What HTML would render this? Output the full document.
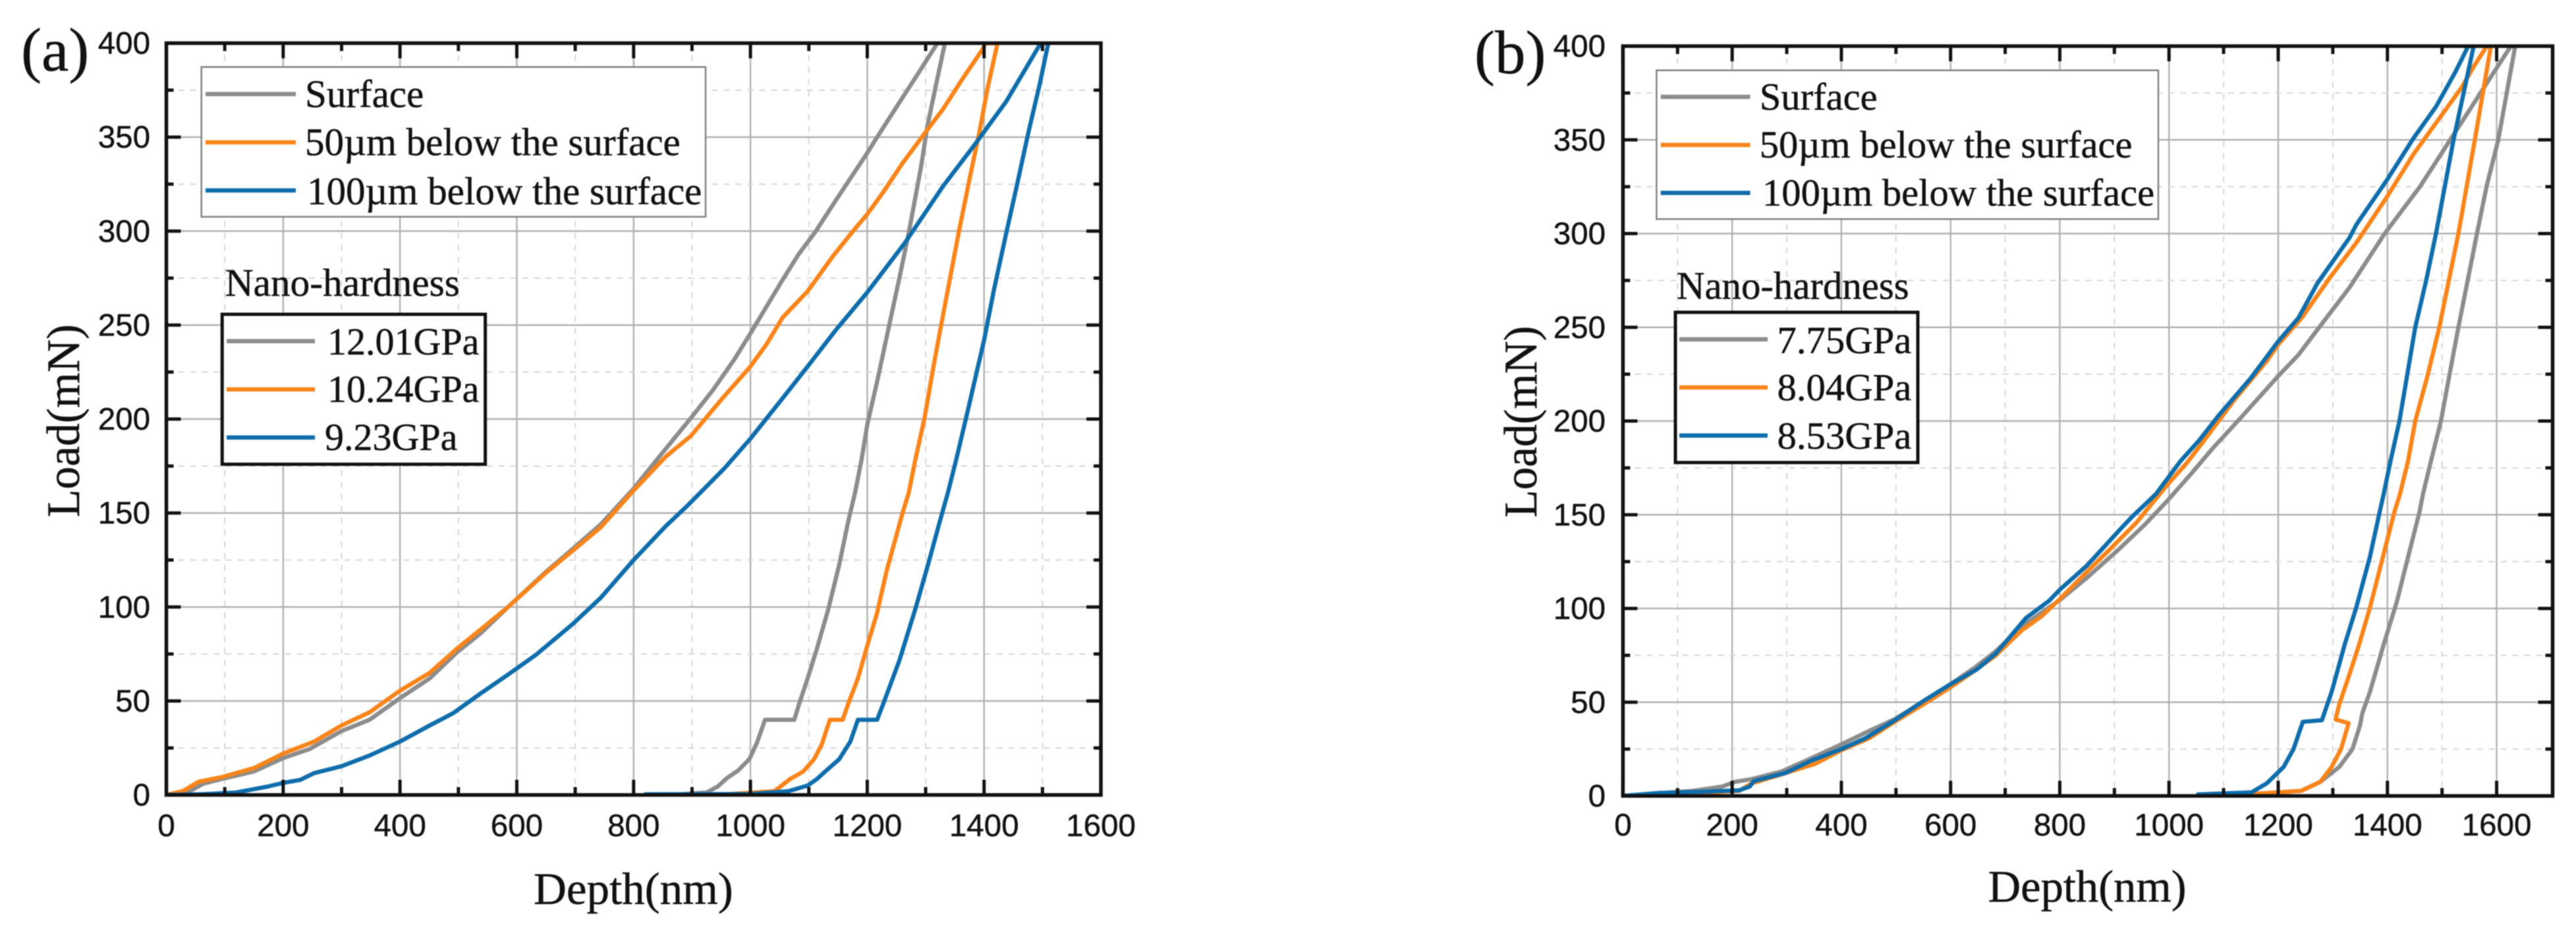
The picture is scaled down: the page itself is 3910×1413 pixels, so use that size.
<!DOCTYPE html>
<html lang="en">
<head>
<meta charset="utf-8">
<title>Nano-indentation load-depth curves</title>
<style>
html,body{margin:0;padding:0;background:#fff;width:3910px;height:1413px;overflow:hidden}
svg{display:block;filter:blur(0.8px)}
text{fill:#111;stroke:#111;stroke-width:0.5px}
.serif{font-family:"Liberation Serif",serif}
.sans{font-family:"Liberation Sans",sans-serif}
</style>
</head>
<body>
<svg id="figure" xmlns="http://www.w3.org/2000/svg" width="3910" height="1413" viewBox="0 0 3910 1413">
  <defs>
    <clipPath id="clip-a"><rect x="252.5" y="65.5" width="1418.5" height="1141"/></clipPath>
    <clipPath id="clip-b"><rect x="2463.4" y="70" width="1411.1" height="1138"/></clipPath>
  </defs>
  <rect width="3910" height="1413" fill="#fff"/>

  <g id="grid-a"></g>
  <g id="grid-b"></g>

  <g>
    <rect x="305.7" y="101.7" width="765.3" height="227.3" fill="#fff" stroke="#808080" stroke-width="2.5"/>
    <line x1="312" x2="449" y1="142.7" y2="142.7" stroke="#8c8c8c" stroke-width="6.5"/>
    <line x1="312" x2="449" y1="216" y2="216" stroke="#f8841a" stroke-width="6.5"/>
    <line x1="312" x2="449" y1="289" y2="289" stroke="#0f6dab" stroke-width="6.5"/>
    <text class="serif" font-size="59" x="463" y="162.7">Surface</text>
    <text class="serif" font-size="59" x="463" y="235.7">50µm below the surface</text>
    <text class="serif" font-size="59" x="466" y="310">100µm below the surface</text>
  </g>
  <g>
    <text class="serif" font-size="59.4" x="341.6" y="449">Nano-hardness</text>
    <rect x="337.2" y="477" width="399.4" height="227.6" fill="#fff" stroke="#111" stroke-width="5"/>
    <line x1="344" x2="478" y1="517.7" y2="517.7" stroke="#8c8c8c" stroke-width="6.5"/>
    <line x1="344" x2="478" y1="591" y2="591" stroke="#f8841a" stroke-width="6.5"/>
    <line x1="344" x2="478" y1="664" y2="664" stroke="#0f6dab" stroke-width="6.5"/>
    <text class="serif" font-size="58" x="497" y="538">12.01GPa</text>
    <text class="serif" font-size="58" x="497" y="610">10.24GPa</text>
    <text class="serif" font-size="58" x="493" y="683">9.23GPa</text>
  </g>

  <g>
    <rect x="2514.4" y="106.7" width="761.6" height="225.8" fill="#fff" stroke="#808080" stroke-width="2.5"/>
    <line x1="2520.8" x2="2656.6" y1="147" y2="147" stroke="#8c8c8c" stroke-width="6.5"/>
    <line x1="2520.8" x2="2656.6" y1="220" y2="220" stroke="#f8841a" stroke-width="6.5"/>
    <line x1="2520.8" x2="2656.6" y1="292.8" y2="292.8" stroke="#0f6dab" stroke-width="6.5"/>
    <text class="serif" font-size="58.6" x="2670.7" y="166.5">Surface</text>
    <text class="serif" font-size="58.6" x="2670.7" y="239">50µm below the surface</text>
    <text class="serif" font-size="58.6" x="2675" y="312">100µm below the surface</text>
  </g>
  <g>
    <text class="serif" font-size="58.8" x="2545" y="453.6">Nano-hardness</text>
    <rect x="2543" y="474" width="368" height="228" fill="#fff" stroke="#111" stroke-width="5"/>
    <line x1="2549" x2="2683" y1="515" y2="515" stroke="#8c8c8c" stroke-width="6.5"/>
    <line x1="2549" x2="2683" y1="588" y2="588" stroke="#f8841a" stroke-width="6.5"/>
    <line x1="2549" x2="2683" y1="661" y2="661" stroke="#0f6dab" stroke-width="6.5"/>
    <text class="serif" font-size="58.7" x="2697.5" y="536">7.75GPa</text>
    <text class="serif" font-size="58.7" x="2697.5" y="607.6">8.04GPa</text>
    <text class="serif" font-size="58.7" x="2697.5" y="681">8.53GPa</text>
  </g>

  <g id="curves-a" clip-path="url(#clip-a)"></g>
  <g id="curves-b" clip-path="url(#clip-b)"></g>
  <g id="axes-a"></g>
  <g id="axes-b"></g>

  <text class="serif" font-size="93" x="32" y="107">(a)</text>
  <text class="serif" font-size="93" x="2238" y="111">(b)</text>
  <text class="serif" font-size="69" x="810" y="1372">Depth(nm)</text>
  <text class="serif" font-size="68.6" x="3017.6" y="1368.5">Depth(nm)</text>
  <text class="serif" font-size="71" textLength="293" lengthAdjust="spacingAndGlyphs" transform="translate(120,785) rotate(-90)">Load(mN)</text>
  <text class="serif" font-size="71" textLength="291" lengthAdjust="spacingAndGlyphs" transform="translate(2332,785.5) rotate(-90)">Load(mN)</text>
</svg>

<script>
// Tick values
const xMajorTicksA = [0,200,400,600,800,1000,1200,1400,1600];
const xMinorTicksA = [100,300,500,700,900,1100,1300,1500];
const xMajorTicksB = [0,200,400,600,800,1000,1200,1400,1600];
const xMinorTicksB = [100,300,500,700,900,1100,1300,1500];
const yMajorTicks = [0,50,100,150,200,250,300,350,400];
const yMinorTicks = [25,75,125,175,225,275,325,375];

// Panel (a) — Surface
const aSurfaceDepth = [0,40,63,95,150,200,245,300,348,400,451,498,538,585,649,696,744,800,844,898,936,973,1000,1022,1055,1082,1112,1146,1200,1217,1249,1287,1320,
  1333,1319,1303,1292,1271,1255,1238,1217,1200,1190,1179,1168,1152,1133,1114,1098,1084,1075,1025,1011,998,979,960,944,925,880];
const aSurfaceLoad = [0,2,6,8.5,12.5,19.6,24.4,34,40,51.5,62,76,86,100,118.5,131,144,163,180,200.5,215.5,232,245.6,257,274,287.5,300,316.3,341.6,350,365.5,383.8,400,
  400,379.7,356,334,299,275,250.6,220,197,178,160.7,146.4,122.5,98.5,78,62,49,40,40,27.6,19,13,9,4.5,1.3,0.4];
// Panel (a) — 50um below the surface
const a50umDepth = [0,28,55,95,150,200,253,300,348,400,451,498,538,585,649,696,744,800,855,898,952,1000,1028,1055,1098,1141,1173,1200,1228,1260,1300,1330,1363,1398,1402,
  1423,1406,1392,1376,1357,1330,1314,1298,1282,1271,1260,1233,1217,1200,1184,1168,1158,1136,1122,1109,1090,1068,1041,960];
const a50umLoad = [0,2,7,9.5,14.3,22,28.4,37,44,55.5,65,78,88,100,118,130,142.5,162,180,191,211,228,240,254,268,286.6,299,309,321,336,352.7,365,381,397,400,
  400,376,352.7,329,300,255.7,229,200.5,178,160.7,149.6,119,97,79.4,62,49,40,40,26.8,19,12.4,8.5,2,0.4];
// Panel (a) — 100um below the surface
const a100umDepth = [0,60,119,174,200,229,253,300,348,400,451,491,538,585,633,696,744,800,855,894,956,1000,1060,1098,1146,1200,1265,1330,1384,1438,1497,
  1510,1495,1476,1455,1438,1417,1400,1371,1352,1338,1325,1304,1282,1255,1228,1217,1184,1171,1152,1130,1114,1098,1065,1000,900,820];
const a100umLoad = [0,0.4,1.3,4.5,6.4,8,11.6,15.3,21,28.4,37,43.5,54,64,74.6,91,105,125,143,154.5,174,189.6,213,228,247.3,267.4,294,324,346,369,400,
  400,377.8,352.7,322.6,299,269,242,203,178,160.7,146.4,122.5,98.6,71.5,49,40,40,28.4,19,13,8.5,5,2,0.5,0.4,0.3];

// Panel (b) — Surface
const bSurfaceDepth = [0,128,182,205,236,290,344,400,451,498,551,600,644,682,736,800,850,906,955,997,1044,1080,1126,1200,1237,1275,1331,1395,1460,1515,1577,1626,
  1634,1603,1582,1564,1530,1517,1498,1480,1465,1459,1438,1417,1392,1368,1354,1350,1336,1312,1277,1242,1151];
const bSurfaceLoad = [0,2.7,5,7.5,9,13,20,27.5,34.7,41,50.6,59.6,68.4,77,91.6,104.5,116.5,131,144.5,157.5,173,185.4,200,224,235.3,250,271.4,300,325.2,350,378,400,
  400,350,325.7,300,250,230,200,179,161,151.8,127.7,103.4,79.6,55.6,44,37.8,25,15.5,7.5,2.7,1];
// Panel (b) — 50um below the surface
const b50umDepth = [0,144,213,236,290,351,400,451,498,551,600,644,682,731,766,800,850,892,941,997,1033,1062,1120,1179,1200,1243,1296,1343,1400,1448,1489,1536,1559,1582,
  1589.5,1560,1530,1495,1473,1451,1438,1423,1413,1396,1368,1347,1329,1312,1305,1329,1315,1298,1277,1242,1151];
const b50umLoad = [0,1.6,2.7,6.7,11.5,17,24.4,30.8,39.6,49,58,66.8,74.8,88.5,95.7,105,119.7,131.6,146,166,177.8,188.7,211.4,232,240.8,255,277,295,320,342.5,359,378,389.6,400,
  400,350,300,250,223.7,200,179,161,151.8,132.5,100.5,79.6,63.6,49,40.8,38.8,25,15.5,7.5,2.7,1];
// Panel (b) — 100um below the surface
const b100umDepth = [0,67,144,213,232,240,298,344,400,444,498,551,600,648,683,738,780,800,850,913,934,976,1021,1056,1091,1150,1200,1237,1272,1331,1343,1400,1448,1489,1524,1548,
  1558,1521,1489,1471,1451,1422,1406,1393,1386,1368,1343,1322,1298,1280,1245,1228,1210,1179,1151,1053];
const b100umLoad = [0,1.6,2.2,3,5,7.9,12.3,18.7,25,30.8,40.4,50.8,59.6,67.5,76,94.9,104,110,123,143,149.4,161,178.6,190,203,223,242.5,255,273.6,298,304.7,329,351,367.7,386,400,
  400,350,300,275,250,200,179,161,151.8,127.7,100.6,81,55.6,40.4,39.5,25,15.5,6.7,1.9,0.8];

const SVG_NS = 'http://www.w3.org/2000/svg';
const GRAY = '#8c8c8c', ORANGE = '#f8841a', BLUE = '#0f6dab';

function mk(parent, tag, attrs) {
  const el = document.createElementNS(SVG_NS, tag);
  for (const k in attrs) el.setAttribute(k, attrs[k]);
  parent.appendChild(el);
  return el;
}

function drawPanel(cfg) {
  const W = cfg.right - cfg.left, H = cfg.bottom - cfg.top;
  const sx = d => cfg.left + d / cfg.xMax * W;
  const sy = l => cfg.bottom - l / 400 * H;
  const grid = document.getElementById(cfg.gridId);
  const axes = document.getElementById(cfg.axesId);
  const curves = document.getElementById(cfg.curvesId);

  cfg.xMajor.forEach(function (v) {
    if (v === 0 || v === cfg.xMax) return;
    const el = mk(grid, 'line', {x1: sx(v), x2: sx(v), y1: cfg.top, y2: cfg.bottom, stroke: '#b0b0b0', 'stroke-width': 2.4});
    
    
  });
  cfg.xMinor.forEach(function (v) {
    const el = mk(grid, 'line', {x1: sx(v), x2: sx(v), y1: cfg.top, y2: cfg.bottom, stroke: '#d6d6d6', 'stroke-width': 2, 'stroke-dasharray': '9 9'});
    
    
  });
  yMajorTicks.forEach(function (v) {
    if (v === 0 || v === 400) return;
    const el = mk(grid, 'line', {x1: cfg.left, x2: cfg.right, y1: sy(v), y2: sy(v), stroke: '#b0b0b0', 'stroke-width': 2.4});
    
    
  });
  yMinorTicks.forEach(function (v) {
    const el = mk(grid, 'line', {x1: cfg.left, x2: cfg.right, y1: sy(v), y2: sy(v), stroke: '#d6d6d6', 'stroke-width': 2, 'stroke-dasharray': '9 9'});
    
    
  });

  cfg.series.forEach(function (s) {
    const pts = s.depth.map(function (d, i) { return sx(d).toFixed(1) + ',' + sy(s.load[i]).toFixed(1); }).join(' ');
    const el = mk(curves, 'polyline', {points: pts, fill: 'none', stroke: s.color, 'stroke-width': 6.4, 'stroke-linejoin': 'round', 'stroke-linecap': 'round'});
    
    
  });

  const frame = mk(axes, 'rect', {x: cfg.left, y: cfg.top, width: W, height: H, fill: 'none', stroke: '#111', 'stroke-width': 5.5});
  
  

  const tick = function (x1, y1, x2, y2, name) {
    const el = mk(axes, 'line', {x1: x1, y1: y1, x2: x2, y2: y2, stroke: '#111', 'stroke-width': 5});
    
    
  };
  cfg.xMajor.forEach(function (v) {
    tick(sx(v), cfg.bottom, sx(v), cfg.bottom - 23, 'x-major-tick');
    tick(sx(v), cfg.top, sx(v), cfg.top + 23, 'x-major-tick-top');
    const t = mk(axes, 'text', {x: sx(v), y: cfg.xLabelBaseline, 'text-anchor': 'middle', 'font-size': 47.5, class: 'sans'});
    t.textContent = String(v);
    
    
  });
  cfg.xMinor.forEach(function (v) {
    tick(sx(v), cfg.bottom, sx(v), cfg.bottom - 12, 'x-minor-tick');
    tick(sx(v), cfg.top, sx(v), cfg.top + 12, 'x-minor-tick-top');
  });
  yMajorTicks.forEach(function (v) {
    tick(cfg.left, sy(v), cfg.left + 22, sy(v), 'y-major-tick');
    tick(cfg.right, sy(v), cfg.right - 22, sy(v), 'y-major-tick-right');
    const t = mk(axes, 'text', {x: cfg.yLabelRight, y: sy(v) + 16, 'text-anchor': 'end', 'font-size': 47.5, class: 'sans'});
    t.textContent = String(v);
    
    
  });
  yMinorTicks.forEach(function (v) {
    tick(cfg.left, sy(v), cfg.left + 11, sy(v), 'y-minor-tick');
    tick(cfg.right, sy(v), cfg.right - 11, sy(v), 'y-minor-tick-right');
  });
}

drawPanel({
  gridId: 'grid-a', axesId: 'axes-a', curvesId: 'curves-a',
  left: 252.5, right: 1671, top: 65.5, bottom: 1206.5, xMax: 1600,
  yLabelRight: 228, xLabelBaseline: 1269,
  xMajor: xMajorTicksA, xMinor: xMinorTicksA,
  series: [
    {name: 'curve-surface', depth: aSurfaceDepth, load: aSurfaceLoad, color: GRAY},
    {name: 'curve-50um', depth: a50umDepth, load: a50umLoad, color: ORANGE},
    {name: 'curve-100um', depth: a100umDepth, load: a100umLoad, color: BLUE}
  ]
});
drawPanel({
  gridId: 'grid-b', axesId: 'axes-b', curvesId: 'curves-b',
  left: 2463.4, right: 3874.5, top: 70, bottom: 1208, xMax: 1702.5,
  yLabelRight: 2437, xLabelBaseline: 1268,
  xMajor: xMajorTicksB, xMinor: xMinorTicksB,
  series: [
    {name: 'curve-surface', depth: bSurfaceDepth, load: bSurfaceLoad, color: GRAY},
    {name: 'curve-50um', depth: b50umDepth, load: b50umLoad, color: ORANGE},
    {name: 'curve-100um', depth: b100umDepth, load: b100umLoad, color: BLUE}
  ]
});
</script>
</body>
</html>
